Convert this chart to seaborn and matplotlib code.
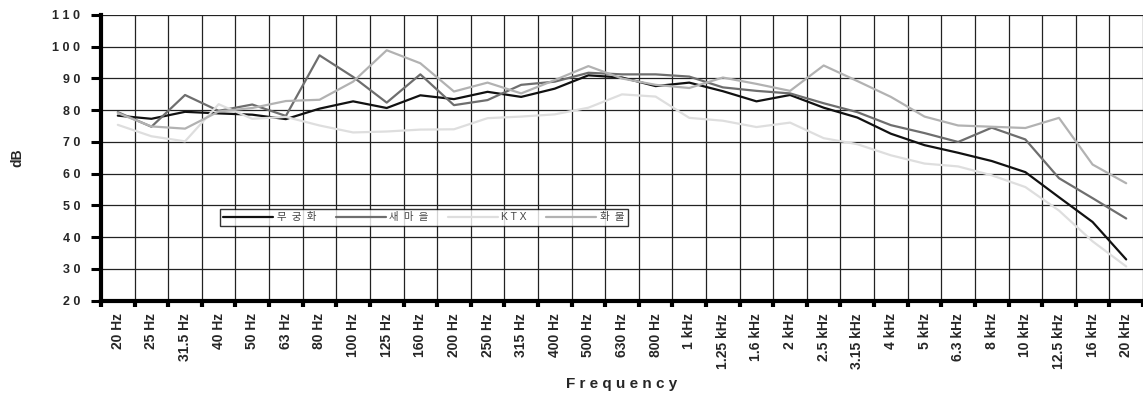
import numpy as np
import pandas as pd
import matplotlib
matplotlib.use("Agg")
import matplotlib.pyplot as plt
import seaborn as sns
from matplotlib.ticker import FixedLocator

# 1/3 octave band centres
freqs = ["20 Hz", "25 Hz", "31.5 Hz", "40 Hz", "50 Hz", "63 Hz", "80 Hz",
         "100 Hz", "125 Hz", "160 Hz", "200 Hz", "250 Hz", "315 Hz", "400 Hz",
         "500 Hz", "630 Hz", "800 Hz", "1 kHz", "1.25 kHz", "1.6 kHz", "2 kHz",
         "2.5 kHz", "3.15 kHz", "4 kHz", "5 kHz", "6.3 kHz", "8 kHz", "10 kHz",
         "12.5 kHz", "16 kHz", "20 kHz"]

mugunghwa = [78.3, 77.3, 79.5, 79.0, 78.6, 77.2, 80.5, 82.8, 80.7, 84.7, 83.5,
             85.8, 84.2, 86.8, 91.0, 90.3, 87.6, 88.7, 86.0, 82.8, 84.8, 80.8,
             77.7, 72.6, 69.0, 66.6, 64.0, 60.5, 52.6, 44.8, 33.0]
saemaeul = [79.4, 74.8, 84.8, 79.8, 81.8, 78.2, 97.3, 90.5, 82.4, 91.3, 81.6,
            83.2, 88.0, 89.0, 91.8, 91.3, 91.3, 90.6, 87.2, 86.1, 85.3, 82.2,
            79.4, 75.3, 72.8, 70.0, 74.5, 70.8, 58.6, 52.3, 45.9]
ktx = [75.4, 71.8, 70.2, 81.9, 77.3, 77.9, 75.2, 73.0, 73.3, 73.9, 74.0, 77.5,
       78.0, 78.7, 80.8, 85.0, 84.3, 77.6, 76.7, 74.7, 76.1, 71.2, 69.3, 65.8,
       63.2, 62.3, 59.5, 55.8, 48.4, 38.7, 30.8]
hwamul = [79.1, 74.9, 74.2, 79.6, 80.7, 82.9, 83.3, 89.0, 98.9, 94.8, 85.9,
          88.7, 85.3, 89.5, 93.9, 90.0, 88.0, 87.0, 90.3, 88.3, 86.1, 94.1,
          89.2, 84.2, 78.0, 75.2, 74.8, 74.4, 77.6, 62.9, 57.0]

# wide letter spacing like the original legend (en spaces)
series_names = ["무\u2002궁\u2002화", "새\u2002마\u2002을", "K T X", "화\u2002물"]
series_colors = ["#111111", "#6e6e6e", "#dedede", "#b2b2b2"]

y_ticks = [20, 30, 40, 50, 60, 70, 80, 90, 100, 110]
y_ticklabels = ["2 0", "3 0", "4 0", "5 0", "6 0", "7 0", "8 0", "9 0", "1 0 0", "1 1 0"]

rows = []
for name, vals in zip(series_names, [mugunghwa, saemaeul, ktx, hwamul]):
    for f, v in zip(freqs, vals):
        rows.append({"freq": f, "dB": v, "train": name})
df = pd.DataFrame(rows)
df["freq"] = pd.Categorical(df["freq"], categories=freqs, ordered=True)
df["pos"] = df["freq"].cat.codes

sns.set_theme(style="white")
plt.rcParams["font.family"] = ["Liberation Sans", "Noto Sans CJK KR"]

fig = plt.figure(figsize=(11.43, 3.96), dpi=100)
ax = fig.add_axes([101 / 1143, 1 - 300.7 / 396, 1042 / 1143, 285.7 / 396])

sns.lineplot(data=df, x="pos", y="dB", hue="train", hue_order=series_names,
             palette=series_colors, linewidth=1.6, ax=ax, sort=False,
             legend=True, zorder=3)

n = len(freqs)
ax.set_xlim(-0.5, n - 0.5)
ax.set_ylim(20, 110)

# labels centred in each band, tick marks / grid on band edges
ax.xaxis.set_major_locator(FixedLocator(np.arange(n)))
ax.set_xticklabels(freqs, rotation=90, fontsize=10, fontweight="bold",
                   va="top")
ax.xaxis.set_minor_locator(FixedLocator(np.arange(n + 1) - 0.5))
ax.tick_params(axis="x", which="major", length=0, pad=9)
ax.tick_params(axis="x", which="minor", length=4, width=3, color="black",
               bottom=True)

ax.set_yticks(y_ticks)
ax.set_yticklabels(y_ticklabels, fontsize=9, fontweight="bold")
ax.tick_params(axis="y", length=7, width=2.2, color="black", left=True, pad=8)

ax.grid(False)
ax.grid(True, axis="y", which="major", color="#222222", linewidth=0.9)
ax.grid(True, axis="x", which="minor", color="#222222", linewidth=0.9)

for side in ["top", "right"]:
    ax.spines[side].set_visible(False)
for side in ["left", "bottom"]:
    ax.spines[side].set_color("black")
    ax.spines[side].set_linewidth(3)
    ax.spines[side].set_zorder(5)

ax.set_xlabel("F r e q u e n c y", fontsize=11, fontweight="bold", labelpad=6)
ax.set_ylabel("dB", fontsize=10, fontweight="bold", labelpad=20)

leg = ax.legend(loc="lower left", bbox_to_anchor=(0.114, 0.261),
                ncol=4, fontsize=7.5, frameon=True, fancybox=False,
                handlelength=4.8, handletextpad=0.3, borderpad=0.35,
                columnspacing=1.9, borderaxespad=0)
leg.get_frame().set_edgecolor("black")
leg.get_frame().set_linewidth(1.0)
leg.set_zorder(6)
for t in leg.get_texts():
    t.set_color("#444444")
for h in leg.get_lines():
    h.set_linewidth(1.6)

fig.savefig("out.png", dpi=100)
